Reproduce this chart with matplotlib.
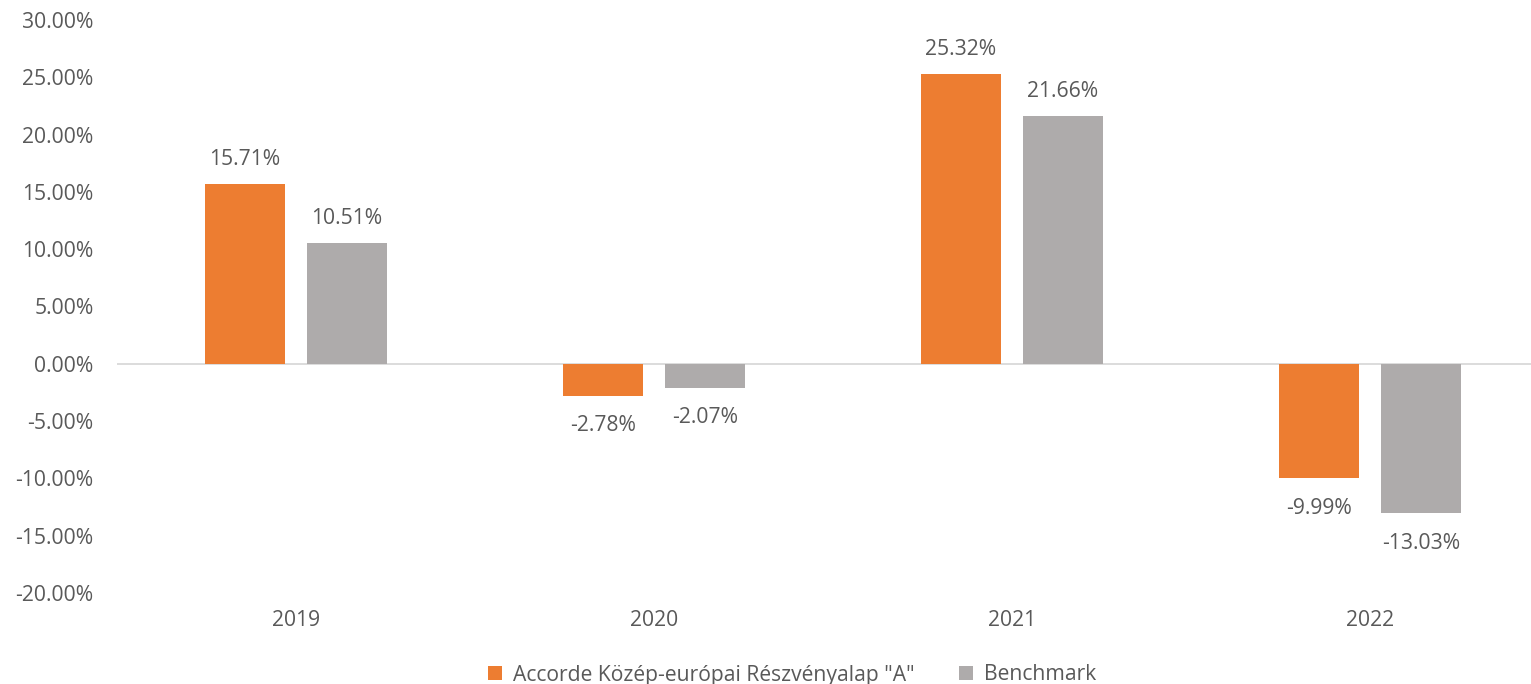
import matplotlib
matplotlib.use("Agg")
import matplotlib.pyplot as plt
from matplotlib.ticker import FuncFormatter, MultipleLocator
import numpy as np

years = ["2019", "2020", "2021", "2022"]
fund = [15.71, -2.78, 25.32, -9.99]
bench = [10.51, -2.07, 21.66, -13.03]
series_names = ['Accorde Közép-európai Részvényalap "A"', "Benchmark"]

plt.rcParams['font.family'] = ['Open Sans', 'DejaVu Sans']
TXT = "#595959"
ORANGE = "#ED7D31"
GREY = "#AEABAB"
FS = 15.2

W, H = 1531, 684
fig = plt.figure(figsize=(W / 100, H / 100), dpi=100)
ax = fig.add_axes([117 / W, (H - 593) / H, (1531 - 117) / W, (593 - 20) / H])

x = np.arange(len(years))
bw = 0.2235
off = 0.1425
b1 = ax.bar(x - off, fund, bw, color=ORANGE, label=series_names[0], zorder=2)
b2 = ax.bar(x + off, bench, bw, color=GREY, label=series_names[1], zorder=2)

for bars, vals in ((b1, fund), (b2, bench)):
    for rect, v in zip(bars, vals):
        cx = rect.get_x() + rect.get_width() / 2
        if v >= 0:
            ax.annotate(f"{v:.2f}%", (cx, v), xytext=(0, 10), textcoords="offset points",
                        ha="center", va="bottom", fontsize=FS, color=TXT)
        else:
            ax.annotate(f"{v:.2f}%", (cx, v), xytext=(0, -14), textcoords="offset points",
                        ha="center", va="top", fontsize=FS, color=TXT)

ax.set_ylim(-20, 30)
ax.set_xlim(-0.5, 3.45)
ax.yaxis.set_major_locator(MultipleLocator(5))
ax.yaxis.set_major_formatter(FuncFormatter(lambda v, p: f"{v:.2f}%"))
ax.set_xticks(x)
ax.set_xticklabels(years)
ax.axhline(0, color="#D9D9D9", lw=1.3, zorder=1)
for s in ax.spines.values():
    s.set_visible(False)
ax.tick_params(axis="both", length=0, labelsize=FS, labelcolor=TXT)
ax.tick_params(axis="y", pad=17)
ax.tick_params(axis="x", pad=12)

fig.legend(handles=[b1, b2], labels=series_names, loc="center", bbox_to_anchor=(792 / W, 1 - 675 / H),
           ncol=2, frameon=False, fontsize=FS, labelcolor=TXT, handlelength=0.66, handleheight=0.66,
           handletextpad=0.52, columnspacing=2.1)

fig.savefig("out.png", dpi=100)
